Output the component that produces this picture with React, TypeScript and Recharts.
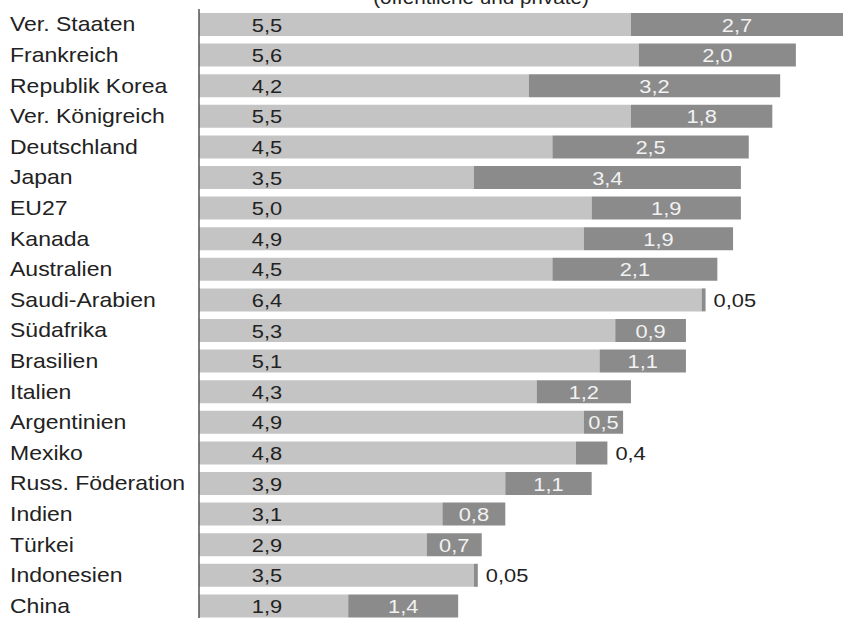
import { BarChart, Bar, XAxis, YAxis, LabelList } from "recharts";

// Bildungsausgaben in % des BIP (öffentliche und private)
const countries = [
  "Ver. Staaten",
  "Frankreich",
  "Republik Korea",
  "Ver. Königreich",
  "Deutschland",
  "Japan",
  "EU27",
  "Kanada",
  "Australien",
  "Saudi-Arabien",
  "Südafrika",
  "Brasilien",
  "Italien",
  "Argentinien",
  "Mexiko",
  "Russ. Föderation",
  "Indien",
  "Türkei",
  "Indonesien",
  "China",
];
const publicShare = [5.5, 5.6, 4.2, 5.5, 4.5, 3.5, 5.0, 4.9, 4.5, 6.4, 5.3, 5.1, 4.3, 4.9, 4.8, 3.9, 3.1, 2.9, 3.5, 1.9];
const privateShare = [2.7, 2.0, 3.2, 1.8, 2.5, 3.4, 1.9, 1.9, 2.1, 0.05, 0.9, 1.1, 1.2, 0.5, 0.4, 1.1, 0.8, 0.7, 0.05, 1.4];

const data = countries.map((name, i) => ({
  name,
  pub: publicShare[i],
  priv: privateShare[i],
}));

const FONT = "'Liberation Sans', Arial, sans-serif";
const STRETCH = 1.15;
const fmt = (v: number) => v.toFixed(v < 0.1 ? 2 : 1).replace(".", ",");

const CountryTick = (props: any) => {
  const { y, payload } = props;
  return (
    <text
      transform={`translate(10, ${y + 7}) scale(${STRETCH}, 1)`}
      fontFamily={FONT}
      fontSize={20}
      fill="#222"
    >
      {payload.value}
    </text>
  );
};

const PublicLabel = (props: any) => {
  const { y, height, value } = props;
  return (
    <text
      transform={`translate(267, ${y + height / 2 + 7}) scale(${STRETCH}, 1)`}
      textAnchor="middle"
      fontFamily={FONT}
      fontSize={19}
      fill="#222"
    >
      {fmt(value)}
    </text>
  );
};

const PrivateLabel = (props: any) => {
  const { x, y, width, height, value } = props;
  const outside = value < 0.45;
  const tx = outside ? x + width + 8 : x + width / 2;
  return (
    <text
      transform={`translate(${tx}, ${y + height / 2 + 7}) scale(${STRETCH}, 1)`}
      textAnchor={outside ? "start" : "middle"}
      fontFamily={FONT}
      fontSize={19}
      fill={outside ? "#222" : "#f2f2f2"}
    >
      {fmt(value)}
    </text>
  );
};

export default function App() {
  return (
    <div
      style={{
        position: "fixed",
        left: 0,
        top: 0,
        width: 847,
        height: 618,
        overflow: "hidden",
        background: "#fff",
      }}
    >
      <svg
        width={847}
        height={10}
        style={{ position: "absolute", left: 0, top: 0 }}
      >
        <text
          transform={`translate(481, 4) scale(${STRETCH}, 1)`}
          textAnchor="middle"
          fontFamily={FONT}
          fontSize={18}
          fill="#222"
        >
          (öffentliche und private)
        </text>
      </svg>
      <BarChart
        width={847}
        height={621}
        data={data}
        layout="vertical"
        margin={{ top: 9, right: 4, bottom: 0, left: 0 }}
      >
        <XAxis type="number" domain={[0, 8.2]} hide />
        <YAxis
          type="category"
          dataKey="name"
          width={199}
          tick={<CountryTick />}
          tickLine={false}
          axisLine={{ stroke: "#555", strokeWidth: 1.5 }}
          interval={0}
        />
        <Bar dataKey="pub" stackId="a" fill="#c4c4c4" barSize={23} isAnimationActive={false}>
          <LabelList dataKey="pub" content={<PublicLabel />} />
        </Bar>
        <Bar dataKey="priv" stackId="a" fill="#8b8b8b" barSize={23} isAnimationActive={false}>
          <LabelList dataKey="priv" content={<PrivateLabel />} />
        </Bar>
      </BarChart>
    </div>
  );
}
